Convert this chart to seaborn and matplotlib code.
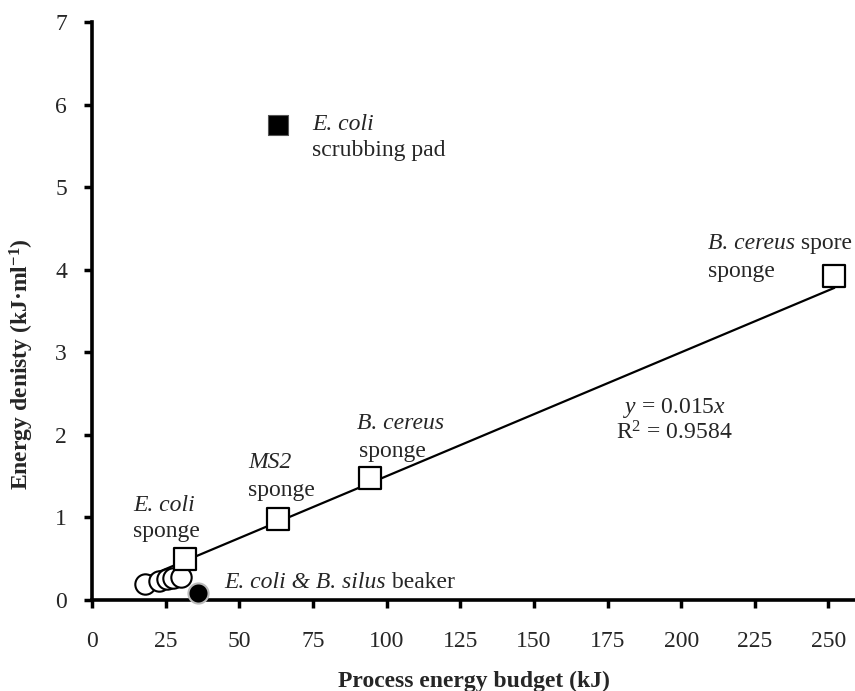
import matplotlib
matplotlib.use("Agg")
import matplotlib.pyplot as plt
import seaborn as sns
import numpy as np
import pandas as pd

# ---- data ----
sponge_x = [31.6, 63.2, 94.4, 252.0]
sponge_y = [0.50, 0.98, 1.48, 3.92]
circle_x = [18.0, 22.8, 25.5, 27.5, 30.2]
circle_y = [0.19, 0.23, 0.25, 0.27, 0.28]
pad_x = [63.2]
pad_y = [5.75]
beaker_x = [36.0]
beaker_y = [0.08]
slope = 0.015
r2 = 0.9584
x_ticks = [0, 25, 50, 75, 100, 125, 150, 175, 200, 225, 250]
y_ticks = [0, 1, 2, 3, 4, 5, 6, 7]

sns.set_theme(style="white")
plt.rcParams['font.family'] = ['Liberation Serif', 'DejaVu Serif']
plt.rcParams['mathtext.fontset'] = 'custom'
plt.rcParams['mathtext.rm'] = 'Liberation Serif'
plt.rcParams['mathtext.it'] = 'Liberation Serif:italic'
plt.rcParams['mathtext.bf'] = 'Liberation Serif:bold'

fig = plt.figure(figsize=(8.55, 6.91), dpi=100)
ax = fig.add_axes([0.1076, 0.1317, 0.8924, 0.8365])

# regression line
fit_x = np.array(circle_x + sponge_x)
lx = np.array([fit_x.min(), fit_x.max()])
sns.lineplot(x=lx, y=slope * lx, ax=ax, color='black', linewidth=1.6, zorder=2)

sns.scatterplot(x=circle_x, y=circle_y, ax=ax, marker='o', s=215,
                facecolor='white', edgecolor='black', linewidth=1.5, zorder=3)
sns.scatterplot(x=sponge_x, y=sponge_y, ax=ax, marker='s', s=240,
                facecolor='white', edgecolor='black', linewidth=1.6, zorder=4)
sns.scatterplot(x=pad_x, y=pad_y, ax=ax, marker='s', s=225,
                color='black', edgecolor='#555555', linewidth=0.8, zorder=4)
sns.scatterplot(x=beaker_x, y=beaker_y, ax=ax, marker='o', s=210,
                color='black', edgecolor='#bbbbbb', linewidth=1.5, zorder=5,
                clip_on=False)

ax.set_xlim(0, 259)
ax.set_ylim(0, 7)
ax.set_xticks(x_ticks)
ax.set_yticks(y_ticks)
ax.tick_params(axis='both', labelsize=17, direction='out', length=6, width=2.5,
               color='black', bottom=True, left=True)
ax.tick_params(axis='x', pad=16)
ax.tick_params(axis='y', pad=12)
for s in ['top', 'right']:
    ax.spines[s].set_visible(False)
for s in ['left', 'bottom']:
    ax.spines[s].set_linewidth(2.6)
    ax.spines[s].set_color('black')

ax.set_xlabel('Process energy budget (kJ)', fontsize=17, fontweight='bold', labelpad=14)
ax.set_ylabel(r'Energy denisty (kJ·ml$^{\mathbf{-1}}$)', fontsize=17, fontweight='bold')
ax.yaxis.label.set_va('center')
ax.yaxis.set_label_coords(-0.092, 0.408)

fs = 17


def mixed(x, y, italic_part, normal_part):
    t1 = ax.text(x, y, italic_part, style='italic', fontsize=fs, va='center', ha='left')
    ax.annotate(normal_part, xy=(1, 0), xycoords=t1, fontsize=fs,
                va='bottom', ha='left')


ax.text(74.7, 5.76, 'E. coli', style='italic', fontsize=fs, va='center', ha='left')
ax.text(74.7, 5.44, 'scrubbing pad', fontsize=fs, va='center', ha='left')

mixed(209.2, 4.32, 'B. cereus', ' spore')
ax.text(209.2, 3.98, 'sponge', fontsize=fs, va='center', ha='left')

ax.text(89.9, 2.14, 'B. cereus', style='italic', fontsize=fs, va='center', ha='left')
ax.text(90.5, 1.80, 'sponge', fontsize=fs, va='center', ha='left')

ax.text(53.0, 1.66, 'MS2', style='italic', fontsize=fs, va='center', ha='left')
ax.text(53.0, 1.33, 'sponge', fontsize=fs, va='center', ha='left')

ax.text(14.0, 1.15, 'E. coli', style='italic', fontsize=fs, va='center', ha='left')
ax.text(14.0, 0.83, 'sponge', fontsize=fs, va='center', ha='left')

mixed(45.0, 0.21, 'E. coli & B. silus', ' beaker')

ax.text(197.7, 2.33, r'$\mathit{y}$ = 0.015$\mathit{x}$', fontsize=fs, va='center', ha='center')
ax.text(197.7, 2.02, 'R$^{2}$ = 0.9584', fontsize=fs, va='center', ha='center')

fig.savefig('out.png', dpi=100)
